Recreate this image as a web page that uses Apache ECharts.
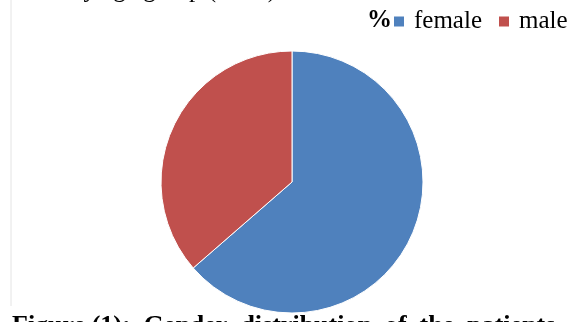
<!DOCTYPE html>
<html>
<head>
<meta charset="utf-8">
<script src="https://cdn.jsdelivr.net/npm/echarts@6/dist/echarts.min.js"></script>
<style>
html,body{margin:0;padding:0;background:#fff;}
#chart{width:569px;height:322px;}
</style>
</head>
<body>
<div id="chart"></div>
<script>
var categories = ['female', 'male'];
var values = [63.6, 36.4];
var colors = ['#4F81BD', '#C0504D'];

var chart = echarts.init(document.getElementById('chart'), null, {renderer: 'canvas'});
var serif = '"Liberation Serif", "DejaVu Serif", serif';
chart.setOption({
  backgroundColor: '#ffffff',
  animation: false,
  color: colors,
  legend: {
    data: categories,
    left: 387,
    top: 4,
    width: 300,
    orient: 'horizontal',
    icon: 'rect',
    itemWidth: 12,
    itemHeight: 12,
    itemGap: 15,
    textStyle: {fontFamily: serif, fontSize: 25, color: '#000', padding: [0, 0, 0, 4]}
  },
  graphic: [
    {type: 'line', shape: {x1: 11, y1: 0, x2: 11, y2: 306}, style: {stroke: '#e4e4e4', lineWidth: 1}},
    {type: 'text', x: 367, y: 8, style: {text: '%', font: 'bold 25px ' + serif, fill: '#000'}},
    {type: 'text', x: 71, y: -22, style: {text: 'by age group (n=60)', font: '25px ' + serif, fill: '#000'}},
    {type: 'text', x: 12, y: 313, style: {text: 'Figure (1):  Gender  distribution  of  the  patients', font: 'bold 26px ' + serif, fill: '#000'}}
  ],
  series: [{
    type: 'pie',
    center: [292, 182],
    radius: 131,
    startAngle: 90,
    clockwise: true,
    label: {show: false},
    labelLine: {show: false},
    itemStyle: {borderColor: '#ffffff', borderWidth: 1},
    emphasis: {disabled: true},
    data: categories.map(function (c, i) { return {name: c, value: values[i]}; })
  }]
});
</script>
</body>
</html>
